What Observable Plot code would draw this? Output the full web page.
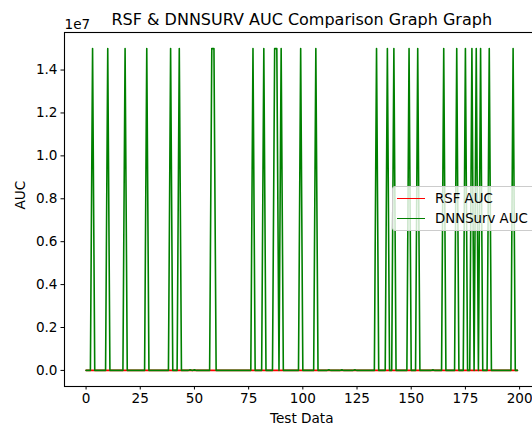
<!DOCTYPE html>
<html>
<head>
<meta charset="utf-8">
<script src="https://cdn.jsdelivr.net/npm/d3@7"></script>
<script src="https://cdn.jsdelivr.net/npm/@observablehq/plot@0.6"></script>
<style>
  html, body { margin: 0; padding: 0; background: #fff; overflow: hidden; }
  #wrap { position: relative; width: 532px; height: 425px; overflow: hidden; font-family: "DejaVu Sans", sans-serif; }
  #legend { position: absolute; left: 392px; top: 186px; width: 150px; height: 45px; box-sizing: border-box;
    background: rgba(255,255,255,0.8); border: 1px solid #cccccc; border-radius: 3px; }
  .item { position: absolute; left: 0; height: 20px; display: flex; align-items: center; font-size: 13.3px; color: #000; white-space: nowrap; }
  .swatch { width: 28px; height: 0; border-top: 1.5px solid; margin-left: 4px; margin-right: 10px; }
</style>
</head>
<body>
<div id="wrap"></div>
<script>
// Chart text
const chartTitle = "RSF & DNNSURV AUC Comparison Graph Graph";
const xLabel = "Test Data";
const yLabel = "AUC";
const offsetLabel = "1e7";
const seriesNames = ["RSF AUC", "DNNSurv AUC"];
const seriesColors = ["#ff0000", "#008000"];

// Tick values
const xTicks = [0, 25, 50, 75, 100, 125, 150, 175, 200];
const yTicks = [0, 2e6, 4e6, 6e6, 8e6, 1e7, 1.2e7, 1.4e7];

// RSF AUC per test sample (index 0..199), all near zero on the 1e7 scale
const rsfAuc = [
  0.62,0.64,0.61,0.66,0.63,0.65,0.62,0.60,0.64,0.63,0.66,0.62,0.61,0.65,0.63,0.64,0.62,0.66,0.63,0.61,
  0.64,0.62,0.65,0.63,0.60,0.64,0.66,0.62,0.63,0.65,0.61,0.64,0.62,0.63,0.66,0.64,0.61,0.62,0.65,0.63,
  0.64,0.60,0.62,0.66,0.63,0.65,0.62,0.64,0.61,0.63,0.65,0.62,0.64,0.66,0.63,0.61,0.62,0.64,0.65,0.63,
  0.62,0.66,0.64,0.61,0.63,0.65,0.62,0.64,0.63,0.60,0.64,0.62,0.66,0.63,0.65,0.61,0.62,0.64,0.63,0.65,
  0.66,0.62,0.64,0.61,0.63,0.65,0.62,0.64,0.63,0.66,0.61,0.62,0.65,0.63,0.64,0.62,0.60,0.64,0.66,0.63,
  0.65,0.61,0.62,0.64,0.63,0.65,0.66,0.62,0.64,0.61,0.63,0.65,0.62,0.64,0.63,0.66,0.61,0.62,0.65,0.63,
  0.64,0.62,0.60,0.64,0.66,0.63,0.65,0.61,0.62,0.64,0.63,0.65,0.66,0.62,0.64,0.61,0.63,0.65,0.62,0.64,
  0.63,0.66,0.61,0.62,0.65,0.63,0.64,0.62,0.60,0.64,0.66,0.63,0.65,0.61,0.62,0.64,0.63,0.65,0.66,0.62,
  0.64,0.61,0.63,0.65,0.62,0.64,0.63,0.66,0.61,0.62,0.65,0.63,0.64,0.62,0.60,0.64,0.66,0.63,0.65,0.61,
  0.62,0.64,0.63,0.65,0.66,0.62,0.64,0.61,0.63,0.65,0.62,0.64,0.63,0.66,0.61,0.62,0.65,0.63,0.64,0.62
];

// DNNSurv AUC per test sample (index 0..199): spikes at 1.5e7, otherwise near zero
const dnnSurvAuc = [
  0.58,0.60,0.57,1.5e7,0.59,0.61,0.58,0.60,0.57,0.59,1.5e7,0.60,0.58,0.61,0.59,0.57,0.60,0.58,1.5e7,0.59,
  0.61,0.58,0.60,0.57,0.59,0.61,0.58,0.60,1.5e7,0.59,0.57,0.60,0.58,0.61,0.59,0.57,0.60,0.58,0.59,1.5e7,
  0.61,0.58,0.60,1.5e7,0.59,0.61,0.58,0.60,30000,0.59,25000,0.58,0.61,0.59,0.57,0.60,0.58,0.59,1.5e7,1.5e7,
  0.61,0.58,0.60,0.57,0.59,0.61,0.58,0.60,0.57,0.59,0.61,0.58,0.60,0.57,0.59,0.61,0.58,1.5e7,0.60,0.57,
  0.59,0.61,1.5e7,0.58,0.60,0.57,0.59,1.5e7,1.5e7,0.61,1.5e7,0.58,0.60,0.57,0.59,0.61,0.58,0.60,0.57,1.5e7,
  0.59,0.61,0.58,0.60,0.57,0.59,1.5e7,0.61,0.58,0.60,0.57,0.59,30000,0.61,0.58,0.60,0.57,0.59,25000,0.61,
  0.58,0.60,0.57,0.59,30000,0.61,0.58,0.60,0.57,0.59,0.61,0.58,0.60,0.57,1.5e7,0.59,0.61,0.58,0.60,1.5e7,
  0.57,0.59,1.5e7,0.61,0.58,0.60,0.57,0.59,0.61,1.5e7,0.58,0.60,0.57,1.5e7,0.59,0.61,0.58,0.60,0.57,0.59,
  25000,0.61,0.58,0.60,0.57,1.5e7,0.59,0.61,0.58,0.60,0.57,1.5e7,0.59,0.61,0.58,1.5e7,0.60,0.57,1.5e7,0.59,
  1.5e7,0.61,1.5e7,0.58,0.60,0.57,1.5e7,0.59,0.61,0.58,0.60,0.57,0.59,0.61,0.58,0.60,0.57,1.5e7,0.59,0.61
];

const rows = rsfAuc.map((v, i) => ({index: i, rsf: v, dnn: dnnSurvAuc[i]}));

const chart = Plot.plot({
  width: 540,
  height: 425,
  marginLeft: 64,
  marginRight: 1.5,
  marginTop: 32,
  marginBottom: 39,
  style: {fontFamily: "DejaVu Sans, sans-serif", fontSize: "13.6px", maxWidth: "none", background: "white", color: "black"},
  x: {domain: [-9.95, 208.95]},
  y: {domain: [-750000, 15750000]},
  marks: [
    Plot.line(rows, {x: "index", y: "rsf", stroke: seriesColors[0], strokeWidth: 1.6}),
    Plot.line(rows, {x: "index", y: "dnn", stroke: seriesColors[1], strokeWidth: 1.6}),
    Plot.frame({stroke: "black", strokeWidth: 1.1}),
    Plot.axisX({ticks: xTicks, tickSize: 3.5, tickPadding: 3.5, label: null, tickFormat: d => String(d)}),
    Plot.axisY({ticks: yTicks, tickSize: 3.5, tickPadding: 3.5, label: null, tickFormat: d => (d / 1e7).toFixed(1)}),
    Plot.text([chartTitle], {frameAnchor: "top", dy: -19, fontSize: 16, fill: "black"}),
    Plot.text([offsetLabel], {frameAnchor: "top-left", textAnchor: "start", dy: -13, fontSize: 13.6, fill: "black"}),
    Plot.text([xLabel], {frameAnchor: "bottom", dy: 36, fontSize: 13.6, fill: "black"}),
    Plot.text([yLabel], {frameAnchor: "left", dx: -44, rotate: -90, fontSize: 13.6, fill: "black"})
  ]
});

const wrap = document.getElementById("wrap");
wrap.appendChild(chart);

const legend = document.createElement("div");
legend.id = "legend";
seriesNames.forEach((name, i) => {
  const item = document.createElement("div");
  item.className = "item";
  item.style.top = (i === 0 ? 1 : 21) + "px";
  const sw = document.createElement("span");
  sw.className = "swatch";
  sw.style.borderTopColor = seriesColors[i];
  const label = document.createElement("span");
  label.textContent = name;
  item.appendChild(sw);
  item.appendChild(label);
  legend.appendChild(item);
});
wrap.appendChild(legend);
</script>
</body>
</html>
